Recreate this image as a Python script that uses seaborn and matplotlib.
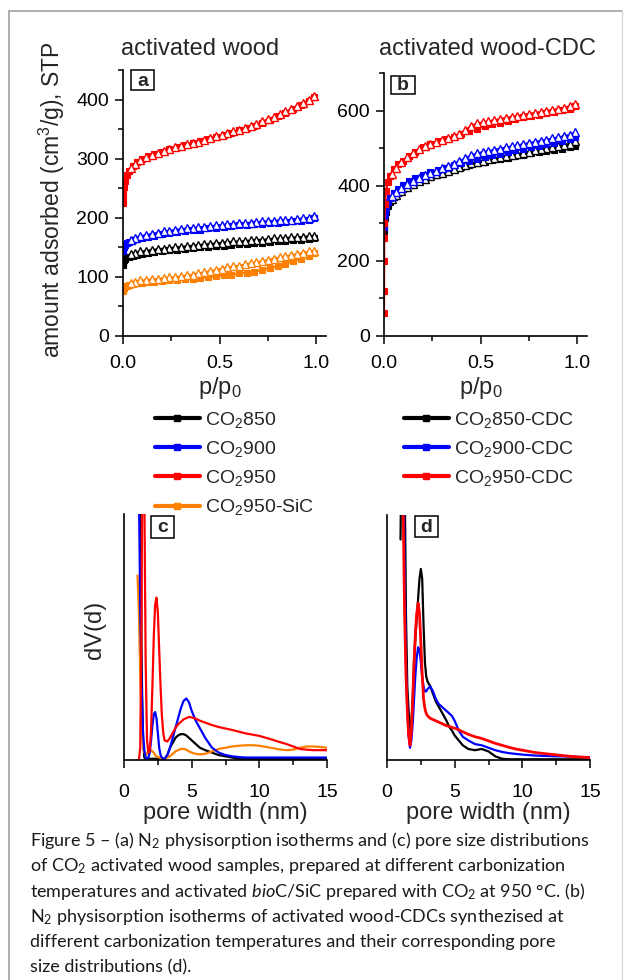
import numpy as np
import pandas as pd
import matplotlib
matplotlib.use("Agg")
import matplotlib.pyplot as plt
import seaborn as sns
from matplotlib.lines import Line2D
from matplotlib.patches import Rectangle
from matplotlib.ticker import FixedLocator, MultipleLocator

# ------------------------------------------------------------------ data
# (a) activated wood: N2 isotherms (adsorption = filled squares, desorption = open triangles)
P_ADS = [0.0005, 0.001, 0.002, 0.005, 0.01, 0.02, 0.03, 0.05, 0.07, 0.1, 0.13, 0.16, 0.2, 0.24,
         0.28, 0.32, 0.36, 0.4, 0.44, 0.48, 0.52, 0.56, 0.6, 0.64, 0.68, 0.72, 0.76, 0.8, 0.84,
         0.88, 0.92, 0.96, 0.99]
P_DES = [0.99, 0.96, 0.93, 0.9, 0.87, 0.84, 0.81, 0.78, 0.75, 0.72, 0.69, 0.66, 0.63, 0.6, 0.57,
         0.54, 0.51, 0.48, 0.45, 0.42, 0.39, 0.36, 0.33, 0.3, 0.27, 0.24, 0.21, 0.18, 0.15, 0.12,
         0.09, 0.06, 0.04]

CO2_850_ADS = [120, 123, 126, 129, 131, 133, 134, 136, 137, 139, 140, 142, 143, 145, 146, 147, 149,
               150, 151, 152, 153, 154, 155, 156, 157, 158, 159, 160, 161, 162, 163, 164, 166]
CO2_850_DES = [170, 169, 168, 167, 167, 166, 165, 165, 164, 163, 163, 162, 161, 160, 160, 159, 158,
               157, 156, 155, 154, 153, 152, 151, 150, 149, 148, 147, 146, 144, 143, 141, 139]
CO2_900_ADS = [143, 146, 148, 151, 154, 157, 159, 162, 164, 166, 168, 170, 172, 174, 176, 177, 179,
               180, 182, 183, 185, 186, 187, 188, 189, 190, 191, 192, 193, 194, 195, 197, 200]
CO2_900_DES = [203, 200, 199, 198, 197, 196, 196, 195, 194, 194, 193, 192, 191, 191, 190, 189, 188,
               187, 186, 185, 184, 183, 182, 181, 180, 178, 177, 175, 173, 171, 169, 166, 163]
CO2_950_ADS = [225, 232, 240, 252, 262, 272, 279, 288, 294, 300, 304, 308, 312, 316, 320, 323, 327,
               330, 333, 337, 340, 344, 348, 352, 356, 361, 366, 372, 378, 384, 391, 398, 405]
CO2_950_DES = [406, 400, 394, 389, 384, 380, 376, 371, 367, 363, 359, 356, 352, 349, 346, 343, 340,
               338, 335, 332, 329, 327, 324, 322, 319, 316, 313, 310, 307, 303, 298, 291, 284]
SIC_950_ADS = [76, 78, 80, 82, 84, 85, 86, 88, 89, 90, 91, 92, 93, 94, 95, 96, 97, 98, 100, 101,
               103, 104, 106, 107, 109, 112, 115, 118, 122, 127, 131, 136, 140]
SIC_950_DES = [144, 143, 141, 139, 137, 135, 133, 131, 129, 127, 125, 123, 121, 119, 118, 116, 114,
               112, 110, 108, 106, 104, 103, 101, 100, 99, 98, 97, 96, 95, 94, 92, 90]

# (b) activated wood-CDC isotherms
P_ADS_RED_CDC = [0.00001, 0.0001, 0.0005, 0.001, 0.002, 0.005, 0.01, 0.02, 0.03, 0.05, 0.07, 0.1,
                 0.13, 0.16, 0.2, 0.24, 0.28, 0.32, 0.36, 0.4, 0.44, 0.48, 0.52, 0.56, 0.6, 0.64,
                 0.68, 0.72, 0.76, 0.8, 0.84, 0.88, 0.92, 0.96, 0.99]
P_ADS_CDC = [0.001, 0.002, 0.005, 0.01, 0.02, 0.03, 0.05, 0.07, 0.1, 0.13, 0.16, 0.2, 0.24, 0.28,
             0.32, 0.36, 0.4, 0.44, 0.48, 0.52, 0.56, 0.6, 0.64, 0.68, 0.72, 0.76, 0.8, 0.84, 0.88,
             0.92, 0.96, 0.99]
CDC_850_ADS = [280, 295, 315, 330, 346, 356, 370, 380, 392, 402, 410, 419, 427, 433, 439, 445, 450,
               455, 460, 464, 468, 472, 475, 479, 482, 486, 489, 492, 496, 499, 502, 506]
CDC_850_DES = [518, 512, 509, 506, 503, 500, 497, 494, 491, 488, 485, 482, 479, 476, 473, 470, 467,
               464, 460, 455, 450, 445, 440, 435, 430, 425, 419, 412, 405, 396, 386, 374, 364]
CDC_900_ADS = [290, 305, 325, 340, 356, 366, 380, 390, 402, 412, 420, 428, 436, 442, 448, 454, 460,
               466, 472, 476, 481, 485, 489, 494, 498, 502, 506, 510, 514, 519, 524, 530]
CDC_900_DES = [542, 536, 532, 529, 526, 523, 520, 517, 514, 511, 508, 505, 502, 499, 496, 493, 490,
               486, 481, 473, 466, 458, 452, 446, 440, 434, 428, 421, 413, 404, 394, 383, 372]
CDC_950_ADS = [60, 120, 200, 260, 300, 350, 385, 410, 425, 445, 457, 467, 480, 490, 502, 512, 518,
               524, 530, 538, 545, 552, 558, 563, 568, 573, 578, 582, 586, 589, 593, 597, 601, 605,
               612]
CDC_950_DES = [618, 612, 608, 605, 602, 600, 597, 594, 592, 589, 586, 584, 581, 578, 575, 572, 569,
               566, 560, 548, 538, 532, 527, 522, 517, 512, 505, 497, 488, 477, 463, 447, 432]

# (c), (d) pore size distributions (arbitrary units)
D_NM = [1.0, 1.1, 1.2, 1.3, 1.4, 1.5, 1.6, 1.7, 1.8, 1.9, 2.0, 2.1, 2.2, 2.3, 2.4, 2.5, 2.6, 2.7,
        2.8, 2.9, 3.0, 3.2, 3.4, 3.6, 3.8, 4.0, 4.2, 4.4, 4.6, 4.8, 5.0, 5.3, 5.6, 6.0, 6.5, 7.0,
        7.5, 8.0, 8.5, 9.0, 9.5, 10.0, 10.5, 11.0, 11.5, 12.0, 12.5, 13.0, 13.5, 14.0, 14.5, 15.0]
PSD_850 = [150, 190, 120, 40, 8, 1, 0.5, 0.5, 0.5, 0.5, 0.5, 0.5, 0.5, 0.5, 0.5, 0.5, 0.5, 0.5,
           0.5, 0.5, 0.5, 2, 5, 7, 9, 10, 10.5, 10.5, 10, 9, 8, 6.5, 5, 4, 3, 2, 1.5, 1, 0.5, 0.5,
           0.5, 0.5, 0.5, 0.5, 0.5, 0.5, 0.5, 0.5, 0.5, 0.5, 0.5, 0.5]
PSD_900 = [120, 110, 62, 30, 12, 4, 1, 0.5, 1, 3, 8, 14, 18.5, 19.5, 17, 11, 5, 2, 1, 0.5, 0.5, 2,
           5, 9, 13, 17, 21, 24, 25, 23.5, 20, 16, 13, 9, 5, 3, 2, 1.5, 1.2, 1, 1, 1, 1, 1, 1, 1,
           1, 1, 1, 1, 1, 1]
PSD_950 = [0, 0, 5, 60, 180, 110, 40, 8, 3, 4, 12, 30, 50, 63, 66, 60, 45, 30, 18, 11, 8, 7.5, 9,
           11, 13, 14.5, 15.5, 16.5, 17, 17.5, 17.3, 16.8, 16, 15.2, 14.2, 13.4, 12.8, 12.2, 11.5,
           10.8, 10.3, 9.8, 9, 8.2, 7.3, 6.5, 5.5, 4.5, 4.2, 4, 4, 4]
PSD_SIC = [75, 60, 35, 15, 6, 3, 2, 2.5, 3.5, 4, 4, 3.5, 3, 2, 1.5, 1.2, 1, 0.8, 0.6, 0.5, 0.5, 1,
           1.5, 2.5, 3.5, 4, 4.5, 4.5, 4.2, 3.5, 3, 2.5, 2.3, 2.5, 3.5, 4.5, 5, 5.5, 5.8, 6, 6, 5.8,
           5.3, 4.8, 4.3, 4, 4.2, 5, 5.5, 5.5, 5.3, 5]
PSD_CDC_850 = [90, 150, 160, 120, 60, 30, 20, 12, 14, 25, 40, 50, 58, 66, 74, 78, 74, 55, 40, 34,
               32, 30, 27, 24, 22, 20, 18, 16, 13.5, 12, 10, 8, 6, 4.5, 4, 4.5, 3.5, 1.5, 0.5, 0.3,
               0.3, 0.3, 0.3, 0.3, 0.3, 0.3, 0.3, 0.3, 0.3, 0.3, 0.3, 0.3]
PSD_CDC_900 = [160, 170, 130, 80, 40, 20, 10, 5, 8, 15, 25, 35, 42, 46, 45, 40, 34, 30, 28, 28,
               29, 30, 28, 25, 23, 22, 21, 20, 19, 18, 16, 12, 9.5, 8, 6.5, 6, 5, 4, 3.3, 2.8, 2.5,
               2.2, 2, 1.8, 1.7, 1.6, 1.5, 1.5, 1.4, 1.3, 1.2, 1.2]
PSD_CDC_950 = [200, 150, 100, 60, 35, 20, 10, 6, 12, 25, 40, 52, 60, 64, 60, 48, 35, 25, 21, 19,
               18, 17, 16.5, 16, 15.5, 15, 14.5, 14, 13.7, 13.3, 13, 12.3, 11.5, 10.5, 9.5, 8.8,
               7.8, 6.8, 6, 5.2, 4.5, 4, 3.5, 3, 2.7, 2.4, 2.1, 1.8, 1.5, 1.3, 1.1, 1]

LEGEND_A = ["CO$_2$850", "CO$_2$900", "CO$_2$950", "CO$_2$950-SiC"]
LEGEND_B = ["CO$_2$850-CDC", "CO$_2$900-CDC", "CO$_2$950-CDC"]
CAPTION = [
    "Figure 5 \u2013 (a) N$_2$ physisorption isotherms and (c) pore size distributions",
    "of CO$_2$ activated wood samples, prepared at different carbonization",
    "temperatures and activated $\\mathit{bio}$C/SiC prepared with CO$_2$ at 950 \u00b0C. (b)",
    "N$_2$ physisorption isotherms of activated wood-CDCs synthezised at",
    "different carbonization temperatures and their corresponding pore",
    "size distributions (d).",
]

BLACK, BLUE, RED, ORANGE = "#000000", "#0000ff", "#ff0000", "#ff8000"

# ------------------------------------------------------------------ style
sns.set_theme(style="ticks")
plt.rcParams["font.family"] = ["Liberation Sans", "DejaVu Sans"]
plt.rcParams["mathtext.default"] = "regular"
plt.rcParams["mathtext.fontset"] = "custom"
plt.rcParams["mathtext.rm"] = "Lato"
plt.rcParams["mathtext.it"] = "Lato:italic"
plt.rcParams["mathtext.bf"] = "Lato:bold"
plt.rcParams["mathtext.sf"] = "Lato"

W, H = 626, 980
fig = plt.figure(figsize=(W / 100, H / 100), dpi=100)
fig.patch.set_facecolor("white")


def fx(x):
    return x / W


def fy(y):
    return 1 - y / H


def add_ax(l, t, r, b):
    return fig.add_axes([l / W, 1 - b / H, (r - l) / W, (b - t) / H])


def style(ax, xpad):
    for s in ["top", "right"]:
        ax.spines[s].set_visible(False)
    for s in ["left", "bottom"]:
        ax.spines[s].set_linewidth(1.2)
        ax.spines[s].set_color("black")
    ax.tick_params(which="major", direction="out", length=6, width=1.1, labelsize=14, pad=4,
                   color="black", labelcolor="black")
    ax.tick_params(axis="x", which="major", pad=xpad)
    ax.tick_params(which="minor", direction="out", length=3.5, width=1.1, color="black")
    ax.set_facecolor("none")
    ax.grid(False)
    ax.set_xlabel("")
    ax.set_ylabel("")


def iso(ax, p_ads, v_ads, p_des, v_des, color):
    sns.lineplot(x=p_ads, y=v_ads, color=color, linewidth=1.6, marker="s", markersize=3.8,
                 markeredgewidth=0.8, markeredgecolor=color, markerfacecolor=color,
                 ax=ax, legend=False, sort=False, estimator=None)
    sns.lineplot(x=p_des, y=v_des, color=color, linewidth=1.2, marker="^", markersize=5.5,
                 markeredgewidth=1.0, markeredgecolor=color, markerfacecolor="white",
                 ax=ax, legend=False, sort=False, estimator=None)


def psd(ax, d, v, color, lw=1.6):
    sns.lineplot(x=d, y=v, color=color, linewidth=lw, ax=ax, legend=False, sort=False,
                 estimator=None)


def panel_label(l, t, r, b, s):
    fig.add_artist(Rectangle((fx(l), fy(b)), (r - l) / W, (b - t) / H, transform=fig.transFigure,
                             fc="white", ec="black", lw=1.1, zorder=5))
    fig.text(fx((l + r) / 2), fy((t + b) / 2 + 1), s, fontsize=14, fontweight="bold",
             ha="center", va="center", zorder=6)


# ------------------------------------------------------------------ panel a
ax_a = add_ax(123, 70, 326, 336)
iso(ax_a, P_ADS, CO2_850_ADS, P_DES, CO2_850_DES, BLACK)
iso(ax_a, P_ADS, SIC_950_ADS, P_DES, SIC_950_DES, ORANGE)
iso(ax_a, P_ADS, CO2_900_ADS, P_DES, CO2_900_DES, BLUE)
iso(ax_a, P_ADS, CO2_950_ADS, P_DES, CO2_950_DES, RED)
ax_a.set_xlim(0, 1.05)
ax_a.set_ylim(0, 450)
style(ax_a, 7.5)
ax_a.xaxis.set_major_locator(FixedLocator([0, 0.5, 1.0]))
ax_a.set_xticklabels(["0.0", "0.5", "1.0"])
ax_a.xaxis.set_minor_locator(FixedLocator([0.25, 0.75]))
ax_a.yaxis.set_major_locator(FixedLocator([0, 100, 200, 300, 400]))
ax_a.yaxis.set_minor_locator(FixedLocator([50, 150, 250, 350, 450]))

# ------------------------------------------------------------------ panel b
ax_b = add_ax(384, 73, 587, 336)
iso(ax_b, P_ADS_CDC, CDC_850_ADS, P_DES, CDC_850_DES, BLACK)
iso(ax_b, P_ADS_CDC, CDC_900_ADS, P_DES, CDC_900_DES, BLUE)
iso(ax_b, P_ADS_RED_CDC, CDC_950_ADS, P_DES, CDC_950_DES, RED)
ax_b.set_xlim(0, 1.05)
ax_b.set_ylim(0, 700)
style(ax_b, 7.5)
ax_b.xaxis.set_major_locator(FixedLocator([0, 0.5, 1.0]))
ax_b.set_xticklabels(["0.0", "0.5", "1.0"])
ax_b.xaxis.set_minor_locator(FixedLocator([0.25, 0.75]))
ax_b.yaxis.set_major_locator(FixedLocator([0, 200, 400, 600]))
ax_b.yaxis.set_minor_locator(FixedLocator([100, 300, 500, 700]))

# ------------------------------------------------------------------ panel c
ax_c = add_ax(124, 514, 327, 760)
psd(ax_c, D_NM, PSD_850, BLACK)
psd(ax_c, D_NM, PSD_SIC, ORANGE)
psd(ax_c, D_NM, PSD_900, BLUE)
psd(ax_c, D_NM, PSD_950, RED)
ax_c.set_xlim(0, 15)
ax_c.set_ylim(0, 100)
style(ax_c, 11.5)

# ------------------------------------------------------------------ panel d
ax_d = add_ax(387, 515, 590, 760)
psd(ax_d, D_NM, PSD_CDC_850, BLACK)
psd(ax_d, D_NM, PSD_CDC_900, BLUE)
psd(ax_d, D_NM, PSD_CDC_950, RED, lw=2.0)
ax_d.set_xlim(0, 15)
ax_d.set_ylim(0, 100)
style(ax_d, 11.5)

for ax in (ax_c, ax_d):
    ax.set_yticks([])
    ax.xaxis.set_major_locator(FixedLocator([0, 5, 10, 15]))
    ax.set_xticklabels(["0", "5", "10", "15"])
    ax.xaxis.set_minor_locator(FixedLocator([2.5, 7.5, 12.5]))
    ax.tick_params(axis="y", which="both", length=0)

# ------------------------------------------------------------------ texts
fig.text(fx(121), fy(49), "activated wood", fontsize=17, ha="left", va="center")
fig.text(fx(379), fy(49), "activated wood-CDC", fontsize=17, ha="left", va="center")
fig.text(fx(52), fy(200), "amount adsorbed (cm$^3$/g), STP", fontsize=16.5, rotation=90,
         ha="center", va="center")
fig.text(fx(220), fy(388), "p/p$_0$", fontsize=17, ha="center", va="center")
fig.text(fx(481), fy(388), "p/p$_0$", fontsize=17, ha="center", va="center")
fig.text(fx(95), fy(630), "dV(d)", fontsize=17, rotation=90, ha="center", va="center")
fig.text(fx(225), fy(813), "pore width (nm)", fontsize=17, ha="center", va="center")
fig.text(fx(488), fy(813), "pore width (nm)", fontsize=17, ha="center", va="center")

panel_label(131, 70, 154, 90, "a")
panel_label(391, 76, 415, 94, "b")
panel_label(151, 516, 174, 538, "c")
panel_label(415, 516, 438, 537, "d")


def handles(colors):
    return [Line2D([], [], color=c, lw=3, marker="s", markersize=4.5, markeredgecolor=c)
            for c in colors]


fig.legend(handles([BLACK, BLUE, RED, ORANGE]), LEGEND_A, loc="upper left",
           bbox_to_anchor=(fx(155), fy(410)), frameon=False, fontsize=14, handlelength=2.3,
           handletextpad=0.25, labelspacing=0.47, borderpad=0, borderaxespad=0, numpoints=1)
fig.legend(handles([BLACK, BLUE, RED]), LEGEND_B, loc="upper left",
           bbox_to_anchor=(fx(404), fy(410)), frameon=False, fontsize=14, handlelength=2.3,
           handletextpad=0.25, labelspacing=0.47, borderpad=0, borderaxespad=0, numpoints=1)

# caption: one font size, chosen so that no line is wider than in the reference
CAP_WIDTHS = [584, 561, 562, 534, 550, 282]
cap_texts = []
for i, line in enumerate(CAPTION):
    t = fig.text(fx(30), fy(846 + 25.3 * i), line, fontsize=12, family=["Lato", "DejaVu Sans"],
                 ha="left", va="baseline", color="#1a1a1a")
    cap_texts.append(t)
fig.canvas.draw()
rend = fig.canvas.get_renderer()
ratios = [cw / t.get_window_extent(rend).width for cw, t in zip(CAP_WIDTHS, cap_texts)]
fs = 12 * min(ratios)
for t in cap_texts:
    t.set_fontsize(fs)

# border of the figure box
bc = "#a8a8a8"
fig.add_artist(Line2D([fx(8.5), fx(8.5)], [0, fy(11)], transform=fig.transFigure, color=bc, lw=1.3))
fig.add_artist(Line2D([fx(8.5), fx(622)], [fy(11), fy(11)], transform=fig.transFigure, color=bc, lw=1.3))
fig.add_artist(Line2D([fx(622), fx(622)], [fy(11), 0], transform=fig.transFigure, color="#d8d8d8", lw=1.0))

fig.savefig("out.png", dpi=100, facecolor="white")
